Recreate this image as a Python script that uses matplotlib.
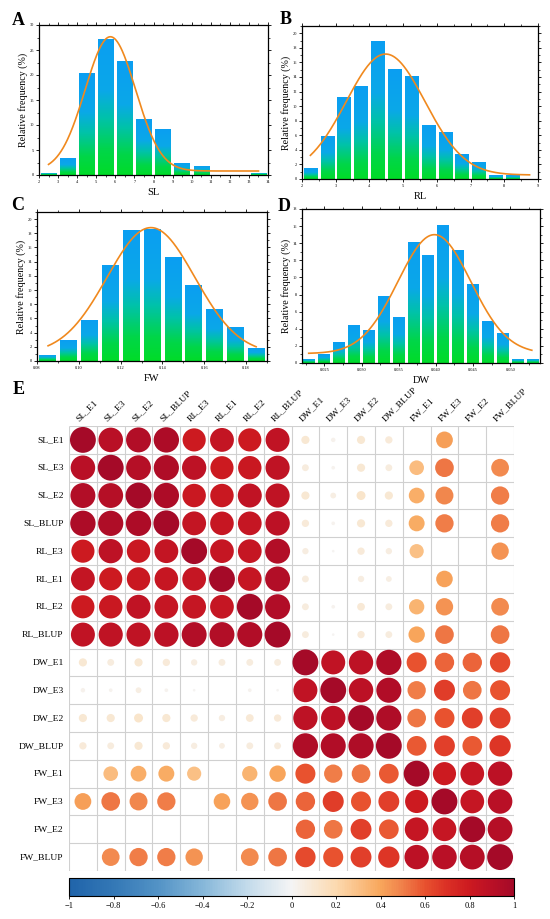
import numpy as np
import matplotlib
matplotlib.use('Agg')
import matplotlib.pyplot as plt
from matplotlib.colors import LinearSegmentedColormap, Normalize
from matplotlib.patches import Circle
from matplotlib.cm import ScalarMappable
from matplotlib.ticker import AutoMinorLocator

plt.rcParams['font.family'] = ['Liberation Serif', 'DejaVu Serif']

# ---------------- histogram data ----------------
sl_centers = [2.5, 3.5, 4.5, 5.5, 6.5, 7.5, 8.5, 9.5, 10.5, 11.5, 12.5, 13.5]
sl_freq = [0.5, 3.4, 20.4, 27.2, 22.8, 11.2, 9.3, 2.5, 1.9, 0.0, 0.0, 0.5]

rl_centers = [2.25, 2.75, 3.25, 3.75, 4.25, 4.75, 5.25, 5.75, 6.25, 6.75, 7.25, 7.75, 8.25]
rl_freq = [1.5, 5.9, 11.2, 12.7, 19.0, 15.1, 14.1, 7.4, 6.4, 3.4, 2.4, 0.5, 0.5]

fw_centers = [0.085, 0.095, 0.105, 0.115, 0.125, 0.135, 0.145, 0.155, 0.165, 0.175, 0.185]
fw_freq = [0.9, 2.9, 5.8, 13.6, 18.5, 18.6, 14.6, 10.7, 7.3, 4.85, 1.9]

dw_centers = [0.023, 0.025, 0.027, 0.029, 0.031, 0.033, 0.035, 0.037, 0.039,
              0.041, 0.043, 0.045, 0.047, 0.049, 0.051, 0.053]
dw_freq = [0.5, 1.0, 2.45, 4.4, 3.9, 7.8, 5.4, 14.1, 12.65, 16.1, 13.15, 9.26,
           4.9, 3.46, 0.5, 0.5]

# fitted normal curve parameters (center, width, amplitude, baseline, x-start, x-end)
sl_fit = [5.74, 1.32, 26.85, 0.8, 2.5, 13.5]
rl_fit = [4.48, 1.17, 16.6, 0.55, 2.25, 8.75]
fw_fit = [0.1345, 0.021, 17.8, 1.0, 0.0853, 0.1848]
dw_fit = [0.0398, 0.0049, 13.9, 1.1, 0.0229, 0.0529]

sl_xticks = [2, 3, 4, 5, 6, 7, 8, 9, 10, 11, 12, 13, 14]
sl_yticks = [0, 5, 10, 15, 20, 25, 30]
rl_xticks = [2, 3, 4, 5, 6, 7, 8, 9]
rl_yticks = [0, 2, 4, 6, 8, 10, 12, 14, 16, 18, 20]
fw_xticks = [0.08, 0.10, 0.12, 0.14, 0.16, 0.18]
fw_yticks = [0, 2, 4, 6, 8, 10, 12, 14, 16, 18, 20]
dw_xticks = [0.025, 0.030, 0.035, 0.040, 0.045, 0.050]
dw_yticks = [0, 2, 4, 6, 8, 10, 12, 14, 16, 18]

# ---------------- correlation data ----------------
traits = ['SL_E1', 'SL_E3', 'SL_E2', 'SL_BLUP', 'RL_E3', 'RL_E1', 'RL_E2', 'RL_BLUP',
          'DW_E1', 'DW_E3', 'DW_E2', 'DW_BLUP', 'FW_E1', 'FW_E3', 'FW_E2', 'FW_BLUP']
nan = np.nan
corr_values = [
    [1.00, 0.90, 0.93, 0.96, 0.80, 0.85, 0.80, 0.86, 0.10, 0.03, 0.10, 0.08, nan, 0.42, nan, nan],
    [0.90, 1.00, 0.92, 0.95, 0.88, 0.80, 0.82, 0.87, 0.07, 0.02, 0.10, 0.07, 0.32, 0.52, nan, 0.47],
    [0.93, 0.92, 1.00, 0.96, 0.82, 0.82, 0.86, 0.87, 0.10, 0.05, 0.12, 0.10, 0.37, 0.48, nan, 0.50],
    [0.96, 0.95, 0.96, 1.00, 0.85, 0.83, 0.84, 0.89, 0.08, 0.02, 0.10, 0.08, 0.38, 0.50, nan, 0.50],
    [0.80, 0.88, 0.82, 0.85, 1.00, 0.84, 0.84, 0.93, 0.06, 0.01, 0.08, 0.06, 0.30, nan, nan, 0.45],
    [0.85, 0.80, 0.82, 0.83, 0.84, 1.00, 0.84, 0.93, 0.07, 0.00, 0.06, 0.05, nan, 0.41, nan, nan],
    [0.80, 0.82, 0.86, 0.84, 0.84, 0.84, 1.00, 0.94, 0.07, 0.02, 0.09, 0.07, 0.35, 0.45, nan, 0.47],
    [0.86, 0.87, 0.87, 0.89, 0.93, 0.93, 0.94, 1.00, 0.07, 0.01, 0.08, 0.07, 0.40, 0.52, nan, 0.52],
    [0.10, 0.07, 0.10, 0.08, 0.06, 0.07, 0.07, 0.07, 1.00, 0.86, 0.88, 0.95, 0.60, 0.56, 0.56, 0.62],
    [0.03, 0.02, 0.05, 0.02, 0.01, 0.00, 0.02, 0.01, 0.86, 1.00, 0.89, 0.94, 0.50, 0.66, 0.52, 0.60],
    [0.10, 0.10, 0.12, 0.10, 0.08, 0.06, 0.09, 0.08, 0.88, 0.89, 1.00, 0.95, 0.52, 0.60, 0.65, 0.65],
    [0.08, 0.07, 0.10, 0.08, 0.06, 0.05, 0.07, 0.07, 0.95, 0.94, 0.95, 1.00, 0.58, 0.65, 0.58, 0.68],
    [nan, 0.32, 0.37, 0.38, 0.30, nan, 0.35, 0.40, 0.60, 0.50, 0.52, 0.58, 1.00, 0.80, 0.84, 0.89],
    [0.42, 0.52, 0.48, 0.50, nan, 0.41, 0.45, 0.52, 0.56, 0.66, 0.60, 0.65, 0.80, 1.00, 0.84, 0.90],
    [nan, nan, nan, nan, nan, nan, nan, nan, 0.56, 0.52, 0.65, 0.58, 0.84, 0.84, 1.00, 0.92],
    [nan, 0.47, 0.50, 0.50, 0.45, nan, 0.47, 0.52, 0.62, 0.60, 0.65, 0.68, 0.89, 0.90, 0.92, 1.00],
]
cbar_ticks = [-1, -0.8, -0.6, -0.4, -0.2, 0, 0.2, 0.4, 0.6, 0.8, 1]

# ---------------- styling ----------------
W, H = 550, 919
fig = plt.figure(figsize=(W / 100, H / 100), dpi=100)

def fig_axes(left, top, right, bottom):
    return fig.add_axes([left / W, 1 - bottom / H, (right - left) / W, (bottom - top) / H])

bar_cmap = LinearSegmentedColormap.from_list(
    'bar', [(0.0, '#00DC28'), (0.18, '#00D648'), (0.42, '#00C2AA'),
            (0.62, '#0AA8E8'), (1.0, '#0A9EF2')])
grad = np.tile(np.linspace(0, 1, 512).reshape(-1, 1), (1, 2))
curve_color = '#F0891E'


def histogram(ax, centers, freq, width, fit, xticks, yticks, xlim, ylim, xlabel, fmt):
    bars = ax.bar(centers, freq, width=width, color='none', edgecolor='none', zorder=2)
    for b in bars:
        x0 = b.get_x()
        w, h = b.get_width(), b.get_height()
        if h <= 0:
            continue
        im = ax.imshow(grad, cmap=bar_cmap, origin='lower', aspect='auto',
                       extent=(x0, x0 + w, 0, h), zorder=2, interpolation='nearest')
        im.set_clip_path(b)
    c, s, a, base, xs, xe = fit
    xx = np.linspace(xs, xe, 400)
    ax.plot(xx, base + a * np.exp(-(xx - c) ** 2 / (2 * s ** 2)), color=curve_color,
            lw=1.2, zorder=3)
    ax.set_xlim(*xlim)
    ax.set_ylim(*ylim)
    ax.set_xticks(xticks)
    ax.set_xticklabels([fmt.format(t) for t in xticks])
    ax.set_yticks(yticks)
    ax.xaxis.set_minor_locator(AutoMinorLocator(2))
    ax.yaxis.set_minor_locator(AutoMinorLocator(2))
    ax.tick_params(axis='both', which='major', labelsize=3.2, length=2.2, width=0.6,
                   direction='out', pad=1.5, top=True, right=True)
    ax.tick_params(axis='both', which='minor', length=1.2, width=0.5, direction='out',
                   top=True, right=True)
    for sp in ax.spines.values():
        sp.set_linewidth(0.9)
    ax.set_ylabel('Relative frequency (%)', fontsize=7.2, labelpad=1)
    ax.set_xlabel(xlabel, fontsize=7.5, labelpad=3)


axA = fig_axes(39, 25, 268, 175)
histogram(axA, sl_centers, sl_freq, 0.8, sl_fit, sl_xticks, sl_yticks, (2, 14), (0, 30), 'SL', '{:g}')
axB = fig_axes(302, 26, 538, 179)
histogram(axB, rl_centers, rl_freq, 0.4, rl_fit, rl_xticks, rl_yticks, (2, 9), (0, 21), 'RL', '{:g}')
axC = fig_axes(37, 212, 267, 361)
histogram(axC, fw_centers, fw_freq, 0.008, fw_fit, fw_xticks, fw_yticks, (0.08, 0.19), (0, 21), 'FW', '{:.2f}')
axD = fig_axes(302, 209, 540, 363)
histogram(axD, dw_centers, dw_freq, 0.0016, dw_fit, dw_xticks, dw_yticks, (0.022, 0.054), (0, 18), 'DW', '{:.3f}')

for lab, (px, py) in zip('ABCDE', [(18.5, 20.5), (285.5, 19.5), (17.5, 206), (284.5, 206.5), (18.5, 390)]):
    fig.text(px / W, 1 - py / H, lab, fontsize=13, fontweight='bold', ha='center', va='center')

# ---------------- correlation plot ----------------
corr_cmap = LinearSegmentedColormap.from_list('corr', [
    (0.00, '#2064AA'), (0.10, '#3478B6'), (0.20, '#5393C6'), (0.30, '#86B7D9'),
    (0.40, '#C3DBEB'), (0.50, '#F5F5F5'), (0.60, '#FCDAB0'), (0.70, '#F8A75C'),
    (0.75, '#F0804A'), (0.80, '#E8522F'), (0.85, '#DB3025'), (0.90, '#CD1A20'),
    (0.95, '#BA1026'), (1.00, '#A50A28')])
norm = Normalize(-1, 1)

axE = fig_axes(69, 426, 514, 871)
n = len(traits)
axE.set_xlim(0, n)
axE.set_ylim(n, 0)
axE.set_xticks([])
axE.set_yticks([])
for sp in axE.spines.values():
    sp.set_visible(False)
grid_col = '#D0D0D0'
axE.vlines(range(n + 1), 0, n, color=grid_col, lw=0.8, zorder=1)
axE.hlines(range(n + 1), 0, n, color=grid_col, lw=0.8, zorder=1)
mat = np.array(corr_values, dtype=float)
for i in range(n):
    for j in range(n):
        r = mat[i, j]
        if np.isnan(r) or r == 0:
            continue
        axE.add_patch(Circle((j + 0.5, i + 0.5), radius=0.465 * np.sqrt(abs(r)),
                             facecolor=corr_cmap(norm(r)), edgecolor='none', zorder=2))
for k, name in enumerate(traits):
    axE.text(-0.2, k + 0.5, name, ha='right', va='center', fontsize=6.8)
    axE.text(k + 0.42, -0.12, name, ha='left', va='bottom', rotation=45,
             rotation_mode='anchor', fontsize=6.8)

cax = fig_axes(69, 878, 514, 896)
cb = fig.colorbar(ScalarMappable(norm=norm, cmap=corr_cmap), cax=cax, orientation='horizontal')
cb.set_ticks(cbar_ticks)
cb.set_ticklabels(['\u22121', '\u22120.8', '\u22120.6', '\u22120.4', '\u22120.2', '0',
                   '0.2', '0.4', '0.6', '0.8', '1'])
cb.ax.tick_params(labelsize=6, length=2.5, width=0.6, pad=2)
cb.outline.set_linewidth(0.8)

fig.savefig('out.png', dpi=100)
